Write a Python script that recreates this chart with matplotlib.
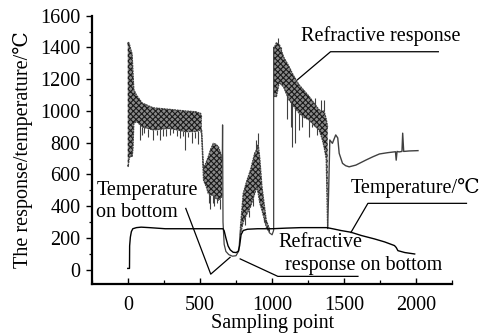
import numpy as np
import matplotlib
matplotlib.use("Agg")
import matplotlib.pyplot as plt
from matplotlib.ticker import MultipleLocator

plt.rcParams['font.family'] = ['Liberation Serif', 'DejaVu Serif', 'DejaVu Sans', 'Noto Sans CJK SC']
plt.rcParams['hatch.linewidth'] = 0.8
plt.rcParams['mathtext.default'] = 'regular'

# ---------------- data ----------------
# Refractive response: dense oscillating bands (upper / lower envelopes)
band1_x = [0, 3, 10, 20, 30, 36, 42, 60, 100, 175, 290, 400, 470, 505, 512]
band1_hi = [1420, 1435, 1425, 1390, 1360, 1250, 1135, 1100, 1050, 1020, 1010, 1000, 995, 985, 960]
band1_lo = [660, 650, 700, 720, 710, 760, 920, 935, 900, 880, 890, 870, 870, 880, 850]
spike1_x = [82, 100, 116, 140, 175, 200, 221, 245, 268, 290, 314, 340, 360, 380, 395, 420, 442, 465, 488]
spike1_lo = [818, 850, 860, 835, 818, 850, 818, 845, 840, 850, 860, 840, 830, 845, 754, 835, 800, 830, 790]

band2_x = [512, 525, 545, 558, 575, 593, 610, 628, 645, 655]
band2_hi = [880, 640, 680, 712, 760, 796, 790, 775, 730, 690]
band2_lo = [850, 564, 520, 480, 470, 470, 450, 437, 450, 470]
spike2_x = [560, 571, 590, 600, 620, 636]
spike2_lo = [420, 385, 420, 400, 420, 385]

trough_x = [655, 657, 660, 668, 680, 700, 725, 750, 770, 780]
trough_y = [690, 912, 300, 160, 115, 95, 85, 88, 120, 250]

band3_x = [780, 800, 825, 850, 880, 895, 904, 915, 930, 960, 985]
band3_hi = [260, 480, 560, 627, 735, 760, 790, 700, 522, 310, 250]
band3_lo = [220, 300, 350, 395, 480, 522, 480, 420, 374, 268, 228]
spike3_x = [815, 840, 870, 890, 904, 945]
spike3_y = [280, 330, 400, 820, 861, 300]

link_x = [985, 1000, 1008, 1011, 1011]
link_y = [230, 220, 240, 250, 1400]

band4_x = [1011, 1030, 1050, 1080, 1116, 1150, 1186, 1220, 1256, 1290, 1325, 1345, 1360, 1375, 1385]
band4_hi = [1390, 1430, 1420, 1340, 1282, 1220, 1166, 1130, 1092, 1050, 1008, 1000, 1000, 950, 900]
band4_lo = [1092, 1090, 1180, 1150, 1071, 1030, 987, 960, 944, 910, 881, 830, 775, 700, 260]
spike4_x = [1040, 1060, 1100, 1130, 1140, 1160, 1186, 1210, 1256, 1280, 1300, 1314, 1340, 1360]
spike4_y = [1462, 1400, 950, 900, 775, 800, 881, 900, 838, 900, 1080, 850, 1070, 1071]

tail_x = [1385, 1392, 1400, 1418, 1441, 1455, 1465, 1488, 1510, 1534, 1581, 1651, 1700, 1744,
          1800, 1855, 1860, 1866, 1880, 1900, 1905, 1912, 1950, 2011]
tail_y = [260, 500, 817, 796, 849, 830, 733, 670, 655, 648, 659, 691, 712, 729,
          737, 743, 690, 745, 742, 745, 860, 745, 748, 750]

# Temperature
temp_x = [0, 12, 13, 18, 25, 35, 60, 93, 150, 260, 400, 560, 660, 668, 680, 695, 710, 730, 750,
          765, 775, 785, 800, 830, 900, 1000, 1100, 1200, 1300, 1380, 1430, 1476, 1546, 1620,
          1709, 1780, 1848, 1860, 1872, 1920, 1988]
temp_y = [8, 8, 150, 205, 240, 258, 265, 268, 265, 258, 258, 258, 258, 245, 200, 150, 125, 110, 108,
          115, 150, 220, 247, 255, 258, 258, 262, 265, 265, 265, 256, 247, 236, 215,
          194, 175, 152, 140, 120, 108, 99]

x_ticks = [0, 500, 1000, 1500, 2000]
y_ticks = [0, 200, 400, 600, 800, 1000, 1200, 1400, 1600]

# ---------------- drawing ----------------
FS = 14.5
fig = plt.figure(figsize=(4.81, 3.36), dpi=100)
ax = fig.add_axes([0.1906, 0.1548, 0.7501, 0.7985])

dark = '#1a1a1a'
for bx, bh, bl in [(band1_x, band1_hi, band1_lo), (band2_x, band2_hi, band2_lo),
                   (band3_x, band3_hi, band3_lo), (band4_x, band4_hi, band4_lo)]:
    ax.fill_between(bx, bl, bh, facecolor='#8a8a8a', edgecolor=dark, hatch='xxxxxx', linewidth=0)
    ax.plot(bx, bh, color='#404040', lw=0.9, ls=(0, (1.5, 0.6)))
    ax.plot(bx, bl, color='#404040', lw=0.9, ls=(0, (1.5, 0.6)))

def spikes(sx, sy, bx, bh, bl):
    sx = np.asarray(sx, float)
    sy = np.asarray(sy, float)
    hi = np.interp(sx, bx, bh)
    lo = np.interp(sx, bx, bl)
    start = np.where(sy > hi, hi, lo)
    ax.vlines(sx, start, sy, color='#404040', lw=0.8)

spikes(spike1_x, spike1_lo, band1_x, band1_hi, band1_lo)
spikes(spike2_x, spike2_lo, band2_x, band2_hi, band2_lo)
spikes(spike3_x, spike3_y, band3_x, band3_hi, band3_lo)
spikes(spike4_x, spike4_y, band4_x, band4_hi, band4_lo)

ax.plot(trough_x, trough_y, color='#404040', lw=0.9)
ax.plot(link_x, link_y, color='#404040', lw=0.9)
ax.plot(tail_x, tail_y, color='#404040', lw=1.0)
ax.plot(temp_x, temp_y, color='black', lw=1.0)

# annotations (leader lines)
lk = dict(color='black', lw=0.9, clip_on=False)
ax.plot([1175, 1405, 2152], [1196, 1373, 1373], **lk)
ax.text(1197, 1470, 'Refractive response', fontsize=FS, va='center', ha='left', clip_on=False)

ax.plot([1546, 1664, 2347], [234, 418, 418], **lk)
ax.text(1546, 513, 'Temperature/\u2103', fontsize=FS, va='center', ha='left', clip_on=False)

ax.plot([402, 575, 709], [386, -28, 78], **lk)
ax.text(-218, 500, 'Temperature', fontsize=FS, va='center', ha='left')
ax.text(-218, 361, 'on bottom', fontsize=FS, va='center', ha='left')

ax.plot([779, 1040, 1595], [68, -42, -42], **lk)
ax.text(1044, 171, 'Refractive', fontsize=FS, va='center', ha='left')
ax.text(1093, 25, 'response on bottom', fontsize=FS, va='center', ha='left')

# axes styling
ax.set_xlim(-250, 2250)
ax.set_ylim(-90, 1600)
ax.set_xticks(x_ticks)
ax.set_yticks(y_ticks)
ax.xaxis.set_minor_locator(MultipleLocator(250))
ax.yaxis.set_minor_locator(MultipleLocator(100))
for s in ['top', 'right']:
    ax.spines[s].set_visible(False)
for s in ['left', 'bottom']:
    ax.spines[s].set_linewidth(1.6)
ax.tick_params(axis='x', which='major', direction='in', length=4, width=1.0, labelsize=FS, pad=9)
ax.tick_params(axis='x', which='minor', direction='in', length=3, width=0.9)
ax.tick_params(axis='y', which='major', direction='out', length=4, width=1.0, labelsize=FS, pad=4)
ax.tick_params(axis='y', which='minor', direction='out', length=2.5, width=0.9)
ax.set_xlabel('Sampling point', fontsize=FS, labelpad=-1)
ax.set_ylabel('The response/temperature/\u2103', fontsize=FS, labelpad=5)

fig.savefig('out.png', dpi=100)
